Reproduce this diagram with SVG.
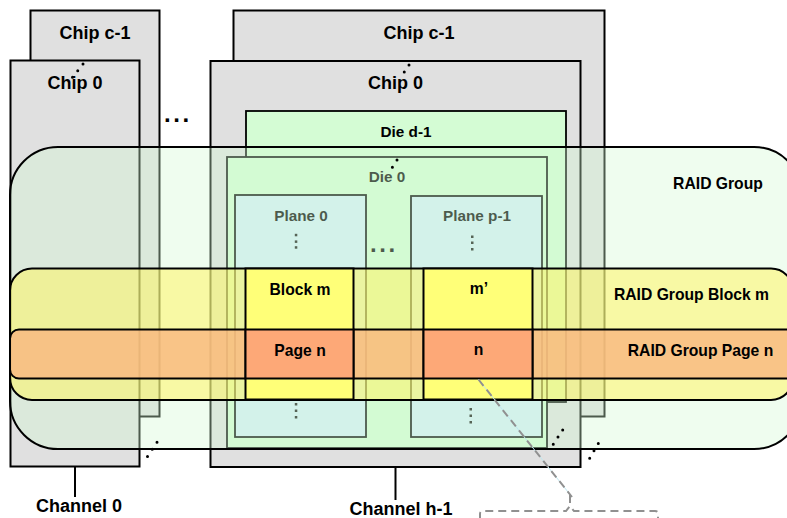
<svg xmlns="http://www.w3.org/2000/svg" width="787" height="518" viewBox="0 0 787 518">
<style>
text{font-family:"Liberation Sans",Arial,sans-serif;font-weight:bold;fill:#000;text-anchor:middle}
.chip{fill:#e0e0e0;stroke:#000;stroke-width:2}
.die{fill:#d4fcd4;stroke:#000;stroke-width:1.8}
.plane{fill:#d3eef7;stroke:#000;stroke-width:1.8}
.big{font-size:18px}
.mid{font-size:15.3px}
.lab{font-size:15.7px}
.ell{font-size:24px;text-anchor:start;letter-spacing:2.6px}
.vd{fill:#111}
.dots{fill:none;stroke:#000;stroke-width:3;stroke-linecap:round;stroke-dasharray:0 8.5}
.ln{stroke:#000;stroke-width:2}
</style>
<g id="chip-left-c1"><rect class="chip" x="30.5" y="10.5" width="129" height="406"/><text class="big" x="95" y="39">Chip c-1</text></g>
<g id="chip-left-0"><rect class="chip" x="10.5" y="60.5" width="129" height="406"/><text class="big" x="75" y="89">Chip 0</text></g>
<g id="channel-0"><line class="ln" x1="75" y1="467" x2="75" y2="497"/><text class="big" x="79" y="512">Channel 0</text></g>
<g id="chip-right-c1"><rect class="chip" x="233.5" y="10.5" width="371" height="406"/><text class="big" x="419" y="38.5">Chip c-1</text></g>
<g id="chip-right-0"><rect class="chip" x="210.5" y="61" width="370" height="406"/><text class="big" x="395.5" y="89">Chip 0</text></g>
<g id="channel-h1"><line class="ln" x1="395.5" y1="468" x2="395.5" y2="500"/><text class="big" x="401" y="515">Channel h-1</text></g>
<g id="die-d1"><rect class="die" x="246" y="111" width="320" height="291"/><text class="mid" x="406" y="136.5">Die d-1</text></g>
<g id="die-0"><rect class="die" x="227" y="157" width="320" height="291"/><text class="mid" x="387" y="182">Die 0</text></g>
<g id="plane-0"><rect class="plane" x="235" y="195" width="131" height="242"/><text class="mid" x="301" y="221">Plane 0</text>
<rect class="vd" x="294.8" y="233.8" width="2.5" height="2.5"/><rect class="vd" x="294.8" y="240.4" width="2.5" height="2.5"/><rect class="vd" x="294.8" y="246.2" width="2.5" height="2.5"/>
<rect class="vd" x="294.8" y="403" width="2.5" height="2.5"/><rect class="vd" x="294.8" y="409.5" width="2.5" height="2.5"/><rect class="vd" x="294.8" y="416" width="2.5" height="2.5"/></g>
<g id="plane-p1"><rect class="plane" x="411" y="196" width="131" height="241"/><text class="mid" x="477" y="221">Plane p-1</text>
<rect class="vd" x="471" y="235.5" width="2.5" height="2.5"/><rect class="vd" x="471" y="241.5" width="2.5" height="2.5"/><rect class="vd" x="471" y="248" width="2.5" height="2.5"/>
<rect class="vd" x="469.5" y="408" width="2.5" height="2.5"/><rect class="vd" x="469.5" y="414.5" width="2.5" height="2.5"/><rect class="vd" x="469.5" y="421" width="2.5" height="2.5"/></g>
<g id="ellipsis"><text class="ell" x="164" y="122">...</text><text class="ell" x="370" y="252">...</text></g>
<g id="raid-group"><rect x="10" y="147" width="792" height="302" rx="48" fill="#d4fad4" fill-opacity="0.36" stroke="#000" stroke-width="2"/><text class="lab" x="718" y="188.5">RAID Group</text></g>
<g id="raid-block"><rect x="10" y="268.5" width="783" height="131.5" rx="22" fill="#fff664" fill-opacity="0.54" stroke="#000" stroke-width="2"/><text class="lab" x="691.5" y="300">RAID Group Block m</text></g>
<g id="raid-page"><rect x="10" y="329.5" width="795" height="49" rx="9" fill="#f9b780" fill-opacity="0.8" stroke="#000" stroke-width="2"/><text class="lab" x="700.5" y="356">RAID Group Page n</text></g>
<g id="block-m"><rect x="245.5" y="268.5" width="108" height="131" fill="#ffff78" stroke="#000" stroke-width="2"/><text class="lab" x="300" y="294.5">Block m</text></g>
<g id="page-n"><rect x="245.5" y="329.5" width="108" height="49" fill="#fda877" stroke="#000" stroke-width="2"/><text class="lab" x="300" y="355.5">Page n</text></g>
<g id="block-m2"><rect x="423.5" y="268.5" width="109" height="131" fill="#ffff78" stroke="#000" stroke-width="2"/><text class="lab" x="479" y="293.5">m’</text></g>
<g id="page-n2"><rect x="423.5" y="329.5" width="109" height="49" fill="#fda877" stroke="#000" stroke-width="2"/><text class="lab" x="478.5" y="355">n</text></g>
<g id="connectors">
<path class="dots" d="M83,64 L72.3,77.6"/>
<path class="dots" d="M409,65 L399.6,79"/>
<path class="dots" d="M397,160 L388,174"/>
<path class="dots" d="M157,442.3 L147.3,456.7"/>
<path class="dots" d="M562.7,430 L552.7,445"/>
<path class="dots" d="M598.3,443.5 L589,459.3"/>
<path d="M478.5,379.5 L572,497" fill="none" stroke="#bfe6ee" stroke-width="1"/>
<path d="M478.5,379.5 L572,497" fill="none" stroke="#909090" stroke-width="2" stroke-dasharray="8 5"/>
<path d="M570,495 L570,503" fill="none" stroke="#909090" stroke-width="2"/>
<path d="M480,520 L480,514 Q480,511 483,511 L566,511 L570,506 L574,511 L655,511 Q658,511 658,514 L658,520" fill="none" stroke="#909090" stroke-width="2" stroke-dasharray="8 5"/>
</g>
</svg>
